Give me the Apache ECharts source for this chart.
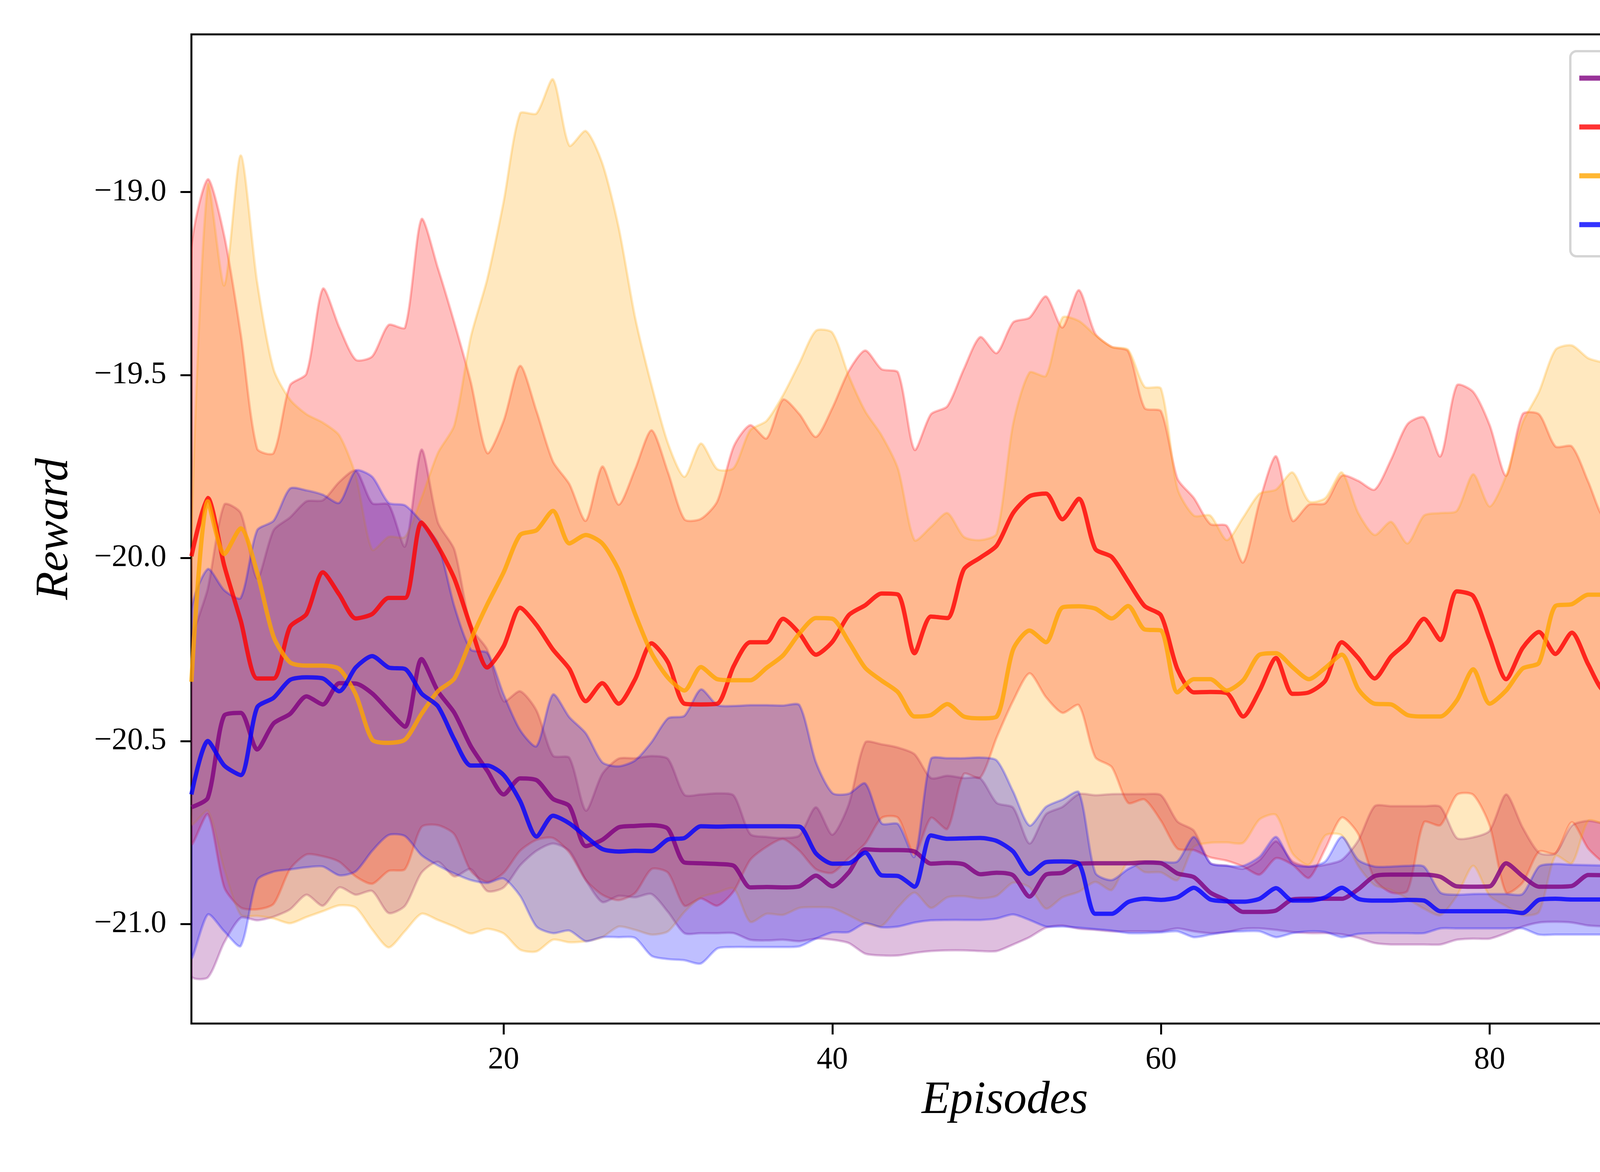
<!DOCTYPE html>
<html>
<head>
<meta charset="utf-8">
<script src="https://cdn.jsdelivr.net/npm/echarts/dist/echarts.min.js"></script>
<style>html,body{margin:0;padding:0;background:#fff}#chart{width:4800px;height:3000px}</style>
</head>
<body>
<div id="chart"></div>
<script>
const episodes = [1,2,3,4,5,6,7,8,9,10,11,12,13,14,15,16,17,18,19,20,21,22,23,24,25,26,27,28,29,30,31,32,33,34,35,36,37,38,39,40,41,42,43,44,45,46,47,48,49,50,51,52,53,54,55,56,57,58,59,60,61,62,63,64,65,66,67,68,69,70,71,72,73,74,75,76,77,78,79,80,81,82,83,84,85,86,87,88,89,90,91,92,93,94,95,96,97,98,99,100];
const seriesNames = ['DVDQN','DQN','DDQN','VDQN'];
const xTicks = [20,40,60,80,100];
const yTicks = [-21.0,-20.5,-20.0,-19.5,-19.0];

const dvdqnMean = [-20.681,-20.655,-20.430,-20.423,-20.523,-20.452,-20.426,-20.378,-20.400,-20.342,
 -20.343,-20.370,-20.417,-20.461,-20.276,-20.364,-20.423,-20.514,-20.581,-20.646,
 -20.602,-20.607,-20.658,-20.678,-20.787,-20.770,
 -20.736,-20.732,-20.730,-20.740,-20.832,-20.834,-20.836,-20.841,-20.900,-20.899,
 -20.900,-20.897,-20.868,-20.897,-20.859,-20.796,-20.798,-20.798,-20.802,-20.835,
 -20.833,-20.837,-20.864,-20.860,-20.867,-20.925,
 -20.865,-20.860,-20.835,-20.834,-20.834,-20.834,-20.832,-20.834,-20.862,-20.872,
 -20.914,-20.936,-20.967,-20.967,-20.963,-20.933,-20.931,-20.931,-20.931,-20.905,
 -20.869,-20.865,-20.865,-20.865,-20.871,
 -20.897,-20.898,-20.897,-20.834,-20.869,-20.898,-20.898,-20.896,-20.866,-20.867,
 -20.873,-20.800,-20.798,-20.864,-20.836,-20.807,-20.789,-20.736,-20.770,-20.767,
 -20.768,-20.829,-20.832];
const dvdqnUpper = [-20.241,-20.083,-19.854,-19.877,-20.056,-19.924,-19.889,-19.845,-19.842,-19.792,
 -19.761,-19.850,-19.854,-19.968,-19.704,-19.903,-19.977,-20.188,-20.250,-20.391,
 -20.364,-20.417,-20.540,-20.546,-20.690,-20.590,
 -20.548,-20.547,-20.541,-20.549,-20.647,-20.646,-20.643,-20.649,-20.754,-20.762,
 -20.765,-20.758,-20.681,-20.756,-20.673,-20.504,-20.509,-20.518,-20.536,-20.601,
 -20.595,-20.601,-20.602,-20.669,-20.682,-20.780,
 -20.700,-20.680,-20.645,-20.648,-20.645,-20.645,-20.645,-20.648,-20.720,-20.745,
 -20.833,-20.840,-20.849,-20.825,-20.774,-20.829,-20.843,-20.838,-20.825,-20.772,
 -20.678,-20.678,-20.678,-20.678,-20.680,
 -20.765,-20.763,-20.745,-20.646,-20.736,-20.805,-20.807,-20.731,-20.718,-20.725,
 -20.718,-20.547,-20.558,-20.675,-20.616,-20.522,-20.451,-20.358,-20.437,-20.431,
 -20.441,-20.593,-20.602];
const dvdqnLower = [-21.142,-21.146,-21.050,-20.983,-20.990,-20.980,-20.960,-20.920,-20.950,-20.900,
 -20.920,-20.910,-20.970,-20.950,-20.860,-20.830,-20.870,-20.850,-20.910,-20.900,
 -20.840,-20.800,-20.780,-20.800,-20.880,-20.940,
 -20.923,-20.927,-20.918,-20.967,-21.025,-21.025,-21.025,-21.025,-21.043,-21.045,
 -21.043,-21.047,-21.040,-21.043,-21.052,-21.081,-21.086,-21.086,-21.079,-21.074,
 -21.072,-21.072,-21.074,-21.074,-21.056,-21.036,
 -21.010,-21.004,-21.013,-21.016,-21.020,-21.020,-21.020,-21.020,-21.012,-21.020,
 -21.025,-21.022,-21.013,-21.012,-21.016,-21.022,-21.025,-21.025,-21.028,-21.038,
 -21.052,-21.056,-21.056,-21.056,-21.056,
 -21.043,-21.040,-21.040,-21.025,-21.007,-20.996,-20.994,-20.996,-21.004,-21.007,
 -21.014,-21.029,-21.034,-21.052,-21.065,-21.081,-21.096,-21.108,-21.099,-21.097,
 -21.093,-21.069,-21.069];

const dqnMean = [-19.995,-19.836,-20.021,-20.171,-20.329,-20.329,-20.188,-20.153,-20.039,-20.100,
 -20.165,-20.153,-20.109,-20.109,-19.903,-19.968,-20.056,-20.188,-20.299,-20.241,
 -20.136,-20.183,-20.250,-20.303,-20.391,-20.342,
 -20.398,-20.331,-20.233,-20.285,-20.398,-20.400,-20.398,-20.295,-20.230,-20.230,
 -20.166,-20.206,-20.264,-20.229,-20.156,-20.129,-20.097,-20.100,-20.260,-20.160,
 -20.164,-20.031,-19.999,-19.966,-19.877,-19.831,
 -19.824,-19.894,-19.838,-19.975,-19.997,-20.064,-20.131,-20.157,-20.304,-20.367,
 -20.366,-20.369,-20.433,-20.362,-20.273,-20.371,-20.367,-20.335,-20.230,-20.273,
 -20.329,-20.269,-20.229,-20.166,-20.224,
 -20.091,-20.104,-20.220,-20.331,-20.246,-20.202,-20.262,-20.204,-20.291,-20.364,
 -20.366,-20.344,-20.304,-20.298,-20.300,-20.215,-20.166,-20.229,-20.202,-20.135,
 -20.262,-20.202,-20.166];
const dqnUpper = [-19.158,-18.965,-19.120,-19.387,-19.701,-19.713,-19.528,-19.496,-19.264,-19.370,
 -19.458,-19.449,-19.363,-19.370,-19.074,-19.208,-19.357,-19.519,-19.713,-19.625,
 -19.475,-19.599,-19.736,-19.798,-19.898,-19.750,
 -19.854,-19.757,-19.651,-19.766,-19.894,-19.893,-19.845,-19.695,-19.637,-19.673,
 -19.567,-19.607,-19.669,-19.590,-19.489,-19.433,-19.484,-19.493,-19.704,-19.607,
 -19.585,-19.484,-19.396,-19.440,-19.356,-19.343,
 -19.285,-19.370,-19.268,-19.387,-19.423,-19.435,-19.590,-19.599,-19.783,-19.836,
 -19.907,-19.912,-20.012,-19.845,-19.722,-19.898,-19.854,-19.850,-19.775,-19.789,
 -19.813,-19.731,-19.634,-19.616,-19.722,
 -19.528,-19.546,-19.637,-19.775,-19.607,-19.607,-19.695,-19.695,-19.792,-19.893,
 -19.849,-19.813,-19.743,-19.748,-19.803,-19.701,-19.599,-19.611,-19.560,-19.379,
 -19.607,-19.572,-19.537];
const dqnLower = [-20.780,-20.700,-20.900,-20.955,-20.960,-20.945,-20.850,-20.810,-20.815,-20.830,
 -20.870,-20.890,-20.855,-20.850,-20.735,-20.730,-20.755,-20.855,-20.885,-20.860,
 -20.800,-20.770,-20.765,-20.805,-20.880,-20.920,
 -20.935,-20.915,-20.850,-20.860,-20.950,-20.930,-20.950,-20.910,-20.825,-20.789,
 -20.768,-20.800,-20.850,-20.860,-20.820,-20.780,-20.710,-20.710,-20.810,-20.710,
 -20.740,-20.590,-20.600,-20.490,-20.390,-20.315,
 -20.380,-20.423,-20.402,-20.544,-20.571,-20.669,-20.660,-20.718,-20.794,-20.798,
 -20.818,-20.827,-20.843,-20.865,-20.820,-20.838,-20.874,-20.794,-20.709,-20.754,
 -20.878,-20.914,-20.909,-20.722,-20.730,
 -20.647,-20.647,-20.731,-20.914,-20.887,-20.802,-20.807,-20.722,-20.794,-20.835,
 -20.862,-20.838,-20.847,-20.852,-20.798,-20.752,-20.743,-20.865,-20.871,-20.898,
 -20.942,-20.887,-20.802];

const ddqnMean = [-20.338,-19.845,-19.989,-19.919,-20.039,-20.215,-20.285,-20.294,-20.294,-20.303,
 -20.373,-20.496,-20.505,-20.496,-20.426,-20.364,-20.329,-20.224,-20.127,-20.039,
 -19.937,-19.924,-19.871,-19.960,-19.937,-19.960,
 -20.033,-20.153,-20.260,-20.327,-20.362,-20.298,-20.331,-20.334,-20.334,-20.300,
 -20.266,-20.206,-20.164,-20.166,-20.229,-20.300,-20.335,-20.367,-20.433,-20.429,
 -20.399,-20.433,-20.438,-20.433,-20.250,-20.198,
 -20.230,-20.135,-20.132,-20.138,-20.165,-20.131,-20.195,-20.198,-20.367,-20.331,
 -20.331,-20.362,-20.334,-20.264,-20.260,-20.298,-20.331,-20.300,-20.264,-20.358,
 -20.398,-20.400,-20.429,-20.433,-20.433,
 -20.389,-20.304,-20.398,-20.362,-20.302,-20.286,-20.131,-20.126,-20.100,-20.100,
 -20.131,-20.068,-20.033,-20.064,-20.008,-19.964,-20.067,-20.069,-20.131,-20.135,
 -20.171,-20.230,-20.264];
const ddqnUpper = [-19.950,-18.980,-19.255,-18.900,-19.246,-19.484,-19.567,-19.607,-19.630,-19.665,
 -19.775,-19.977,-19.942,-19.942,-19.836,-19.713,-19.637,-19.396,-19.238,-19.026,
 -18.785,-18.785,-18.692,-18.873,-18.833,-18.921,
 -19.097,-19.343,-19.528,-19.687,-19.778,-19.687,-19.757,-19.754,-19.651,-19.625,
 -19.555,-19.467,-19.379,-19.384,-19.502,-19.599,-19.665,-19.757,-19.951,-19.915,
 -19.877,-19.942,-19.951,-19.933,-19.634,-19.493,
 -19.502,-19.343,-19.352,-19.391,-19.423,-19.431,-19.532,-19.537,-19.810,-19.884,
 -19.884,-19.951,-19.889,-19.824,-19.813,-19.766,-19.845,-19.836,-19.766,-19.877,
 -19.937,-19.901,-19.960,-19.884,-19.877,
 -19.871,-19.771,-19.859,-19.775,-19.630,-19.546,-19.431,-19.419,-19.454,-19.467,
 -19.484,-19.327,-19.290,-19.373,-19.391,-19.366,-19.463,-19.426,-19.452,-19.458,
 -19.532,-19.555,-19.577];
const ddqnLower = [-20.727,-20.691,-20.850,-20.975,-20.978,-20.985,-20.998,-20.981,-20.965,-20.949,
 -20.955,-21.015,-21.064,-21.019,-20.972,-20.989,-21.007,-21.026,-21.013,-21.026,
 -21.070,-21.075,-21.043,-21.050,-21.047,-21.036,
 -21.007,-21.016,-21.029,-21.020,-20.967,-20.927,-20.914,-20.903,-20.994,-20.972,
 -20.975,-20.956,-20.954,-20.956,-20.976,-20.998,-21.005,-20.954,-20.914,-20.956,
 -20.927,-20.924,-20.930,-20.923,-20.887,-20.900,
 -20.958,-20.927,-20.912,-20.885,-20.907,-20.831,-20.858,-20.859,-20.880,-20.789,
 -20.778,-20.777,-20.778,-20.714,-20.702,-20.807,-20.838,-20.758,-20.758,-20.841,
 -20.894,-20.907,-20.931,-20.958,-20.976,
 -20.923,-20.841,-20.923,-20.951,-20.976,-20.967,-20.814,-20.834,-20.718,-20.729,
 -20.752,-20.802,-20.784,-20.754,-20.625,-20.571,-20.675,-20.705,-20.807,-20.816,
 -20.807,-20.896,-20.940];

const vdqnMean = [-20.646,-20.500,-20.567,-20.593,-20.408,-20.382,-20.333,-20.326,-20.329,-20.364,
 -20.299,-20.268,-20.299,-20.303,-20.370,-20.405,-20.496,-20.567,-20.567,-20.593,
 -20.664,-20.761,-20.704,-20.725,-20.761,-20.795,
 -20.802,-20.800,-20.801,-20.769,-20.765,-20.733,-20.734,-20.733,-20.733,-20.733,
 -20.733,-20.734,-20.807,-20.835,-20.834,-20.805,-20.867,-20.869,-20.898,-20.758,
 -20.767,-20.766,-20.765,-20.773,-20.802,-20.863,
 -20.831,-20.829,-20.835,-20.972,-20.972,-20.940,-20.931,-20.934,-20.927,-20.901,
 -20.933,-20.938,-20.939,-20.931,-20.902,-20.936,-20.936,-20.927,-20.901,-20.931,
 -20.936,-20.936,-20.934,-20.936,-20.965,
 -20.965,-20.965,-20.965,-20.965,-20.970,-20.934,-20.931,-20.933,-20.933,-20.933,
 -20.933,-20.930,-20.936,-20.964,-20.967,-20.996,-21.001,-21.001,-20.996,-20.964,
 -20.934,-20.931,-20.933];
const vdqnUpper = [-20.144,-20.030,-20.088,-20.109,-19.924,-19.898,-19.810,-19.815,-19.827,-19.849,
 -19.761,-19.778,-19.849,-19.856,-19.901,-19.960,-20.132,-20.250,-20.259,-20.373,
 -20.470,-20.514,-20.373,-20.435,-20.479,-20.558,
 -20.569,-20.553,-20.503,-20.438,-20.431,-20.359,-20.402,-20.404,-20.402,-20.402,
 -20.403,-20.402,-20.558,-20.642,-20.644,-20.616,-20.725,-20.727,-20.816,-20.549,
 -20.547,-20.547,-20.545,-20.553,-20.638,-20.731,
 -20.680,-20.660,-20.640,-20.860,-20.880,-20.850,-20.830,-20.830,-20.829,-20.762,
 -20.834,-20.841,-20.841,-20.816,-20.762,-20.835,-20.843,-20.829,-20.762,-20.825,
 -20.843,-20.843,-20.841,-20.843,-20.914,
 -20.920,-20.918,-20.918,-20.918,-20.918,-20.843,-20.836,-20.838,-20.839,-20.840,
 -20.840,-20.835,-20.843,-20.918,-20.919,-20.985,-20.990,-20.990,-20.985,-20.936,
 -20.843,-20.836,-20.838];
const vdqnLower = [-21.090,-20.974,-21.020,-21.060,-20.880,-20.857,-20.851,-20.845,-20.843,-20.867,
 -20.856,-20.800,-20.757,-20.760,-20.812,-20.840,-20.862,-20.880,-20.888,-20.876,
 -20.923,-21.007,-21.025,-21.018,-21.047,-21.036,
 -21.036,-21.038,-21.087,-21.096,-21.099,-21.108,-21.067,-21.063,-21.063,-21.063,
 -21.063,-21.061,-21.040,-21.023,-21.022,-20.998,-21.009,-21.007,-20.996,-20.990,
 -20.989,-20.989,-20.989,-20.985,-20.974,-20.989,
 -21.007,-21.007,-21.010,-21.014,-21.018,-21.025,-21.025,-21.023,-21.020,-21.036,
 -21.029,-21.022,-21.020,-21.020,-21.036,-21.025,-21.020,-21.022,-21.036,-21.027,
 -21.025,-21.025,-21.025,-21.025,-21.012,
 -21.012,-21.012,-21.012,-21.012,-21.012,-21.029,-21.029,-21.029,-21.029,-21.029,
 -21.029,-21.029,-21.029,-21.013,-21.013,-21.013,-21.013,-21.013,-21.013,-21.027,
 -21.027,-21.027,-21.027];

const groups = [
  {name: seriesNames[0], mean: dvdqnMean, upper: dvdqnUpper, lower: dvdqnLower, rgb: '128,0,128'},
  {name: seriesNames[1], mean: dqnMean, upper: dqnUpper, lower: dqnLower, rgb: '255,0,0'},
  {name: seriesNames[2], mean: ddqnMean, upper: ddqnUpper, lower: ddqnLower, rgb: '255,165,0'},
  {name: seriesNames[3], mean: vdqnMean, upper: vdqnUpper, lower: vdqnLower, rgb: '0,0,255'}
];

const FONT = 'Liberation Serif';

function bandSeries(g) {
  const data = episodes.map((e, i) => [e, g.lower[i], g.upper[i]]);
  return {
    type: 'custom',
    name: g.name + ' band',
    coordinateSystem: 'cartesian2d',
    clip: true,
    silent: true,
    z: 1,
    encode: {x: 0, y: [1, 2]},
    data: data,
    renderItem: function (params, api) {
      if (params.dataIndex !== 0) return null;
      const pts = [];
      for (let i = 0; i < data.length; i++) pts.push(api.coord([data[i][0], data[i][2]]));
      for (let i = data.length - 1; i >= 0; i--) pts.push(api.coord([data[i][0], data[i][1]]));
      return {
        type: 'polygon',
        shape: {points: pts, smooth: 0.25},
        style: {
          fill: 'rgba(' + g.rgb + ',0.25)',
          stroke: 'rgba(' + g.rgb + ',0.25)',
          lineWidth: 6
        }
      };
    }
  };
}

function meanSeries(g) {
  const c = 'rgba(' + g.rgb + ',0.8)';
  return {
    type: 'line',
    name: g.name,
    data: episodes.map((e, i) => [e, g.mean[i]]),
    showSymbol: false,
    symbol: 'none',
    smooth: 0.25,
    z: 3,
    color: c,
    itemStyle: {color: c},
    lineStyle: {color: c, width: 11}
  };
}

const series = [];
groups.forEach(g => series.push(bandSeries(g)));
groups.forEach(g => series.push(meanSeries(g)));

const chart = echarts.init(document.getElementById('chart'), null, {renderer: 'canvas', width: 4800, height: 3000});
chart.setOption({
  animation: false,
  backgroundColor: '#ffffff',
  grid: {left: 490, right: 145, top: 88, bottom: 380, show: true, borderColor: '#000', borderWidth: 5, backgroundColor: 'rgba(0,0,0,0)'},
  legend: {
    data: seriesNames,
    orient: 'vertical',
    left: 4020,
    top: 131,
    icon: 'rect',
    itemWidth: 180,
    itemHeight: 13,
    itemGap: 35,
    padding: [24, 46, 36, 23],
    backgroundColor: 'rgba(255,255,255,0.8)',
    borderColor: '#d5d5d5',
    borderWidth: 6,
    borderRadius: 16,
    textStyle: {fontFamily: FONT, fontSize: 78, color: '#000', padding: [0, 0, 0, 55], lineHeight: 90}
  },
  xAxis: {
    type: 'value',
    min: 1,
    max: 100,
    axisLine: {show: false},
    splitLine: {show: false},
    axisTick: {show: true, customValues: xTicks, length: 28, lineStyle: {color: '#000', width: 5}},
    axisLabel: {customValues: xTicks, fontFamily: FONT, fontSize: 80, color: '#000', margin: 54},
    name: 'Episodes',
    nameLocation: 'middle',
    nameGap: 136,
    nameTextStyle: {fontFamily: FONT, fontStyle: 'italic', fontSize: 118, color: '#000'}
  },
  yAxis: {
    type: 'value',
    min: -21.272,
    max: -18.569,
    axisLine: {show: false},
    splitLine: {show: false},
    axisTick: {show: true, customValues: yTicks, length: 28, lineStyle: {color: '#000', width: 5}},
    axisLabel: {
      customValues: yTicks, fontFamily: FONT, fontSize: 80, color: '#000', margin: 64,
      formatter: v => (v < 0 ? '\u2212' : '') + Math.abs(v).toFixed(1)
    },
    name: 'Reward',
    nameLocation: 'middle',
    nameGap: 290,
    nameTextStyle: {fontFamily: FONT, fontStyle: 'italic', fontSize: 118, color: '#000'}
  },
  series: series
});
</script>
</body>
</html>
